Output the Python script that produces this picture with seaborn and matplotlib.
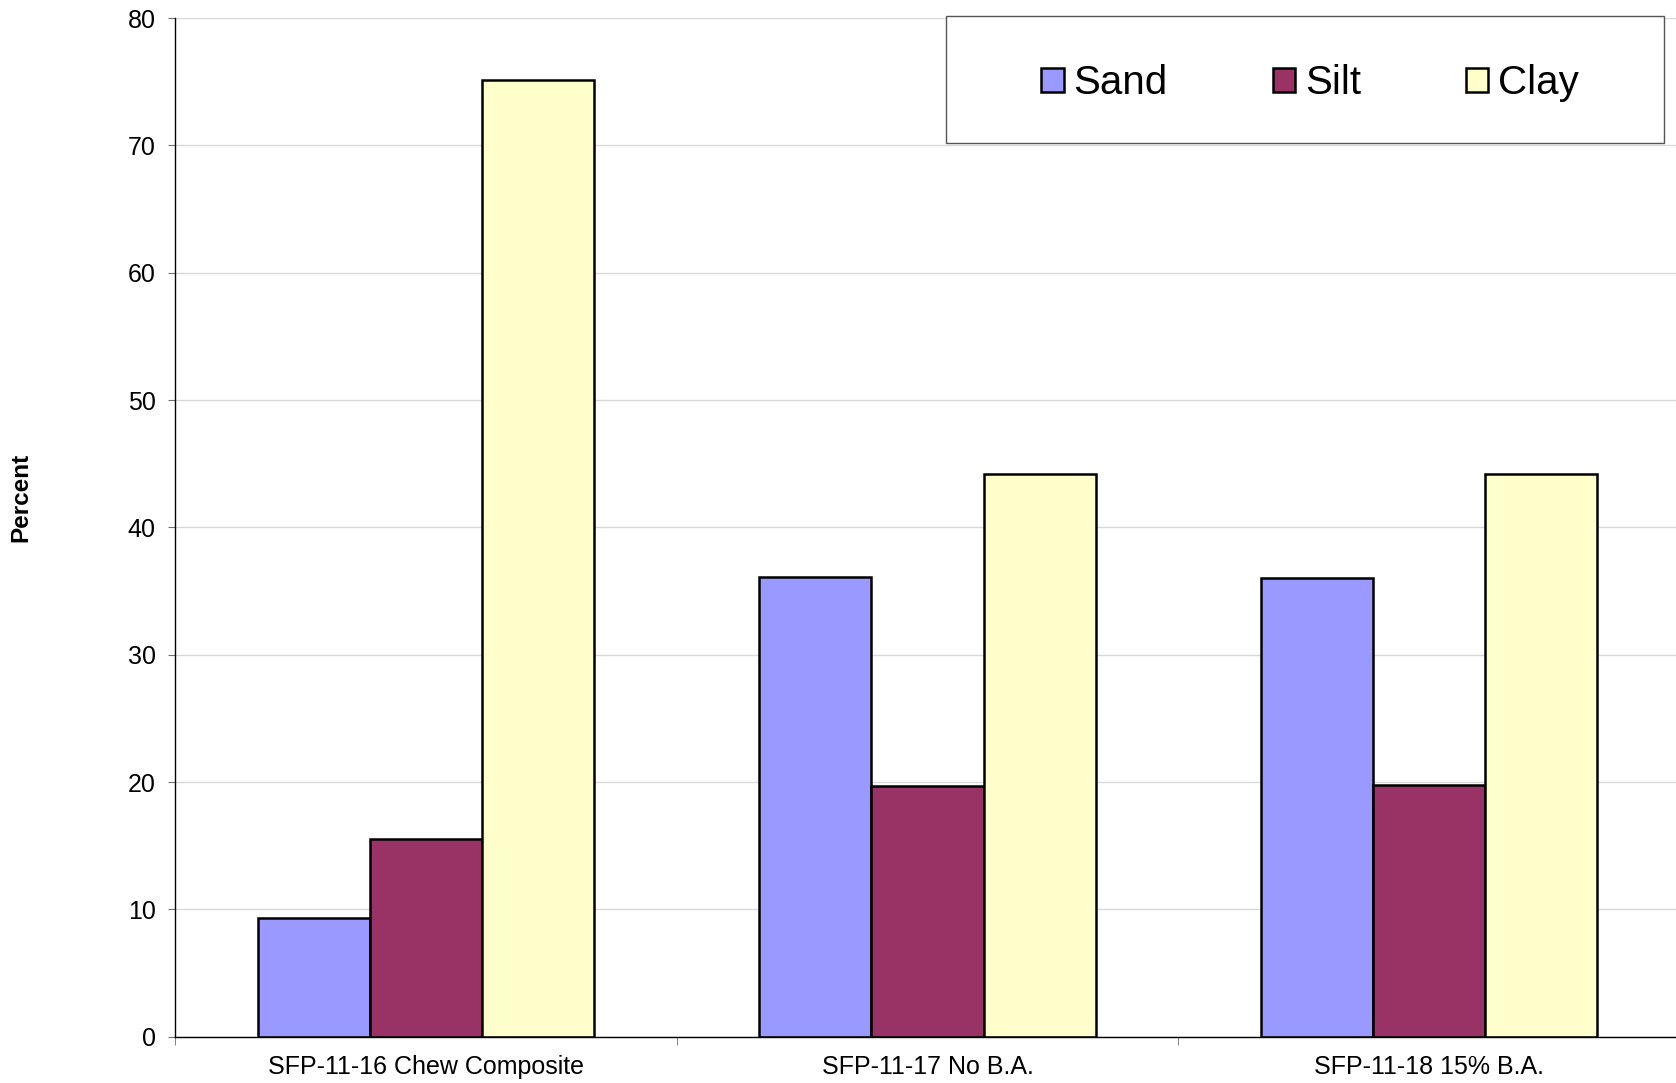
import numpy as np
import pandas as pd
import matplotlib
matplotlib.use('Agg')
import matplotlib.pyplot as plt
import seaborn as sns
from matplotlib.patches import Rectangle
from matplotlib.ticker import FixedLocator

samples = ['SFP-11-16 Chew Composite', 'SFP-11-17 No B.A.', 'SFP-11-18 15% B.A.']
fractions = ['Sand', 'Silt', 'Clay']
sand = [9.3, 36.1, 36.0]
silt = [15.5, 19.7, 19.8]
clay = [75.1, 44.2, 44.2]
colors = ['#9999ff', '#993366', '#ffffcc']
yticks = [0, 10, 20, 30, 40, 50, 60, 70, 80]

df = pd.DataFrame({
    'sample': samples * 3,
    'fraction': np.repeat(fractions, len(samples)),
    'percent': sand + silt + clay,
})

sns.set_style('white')
plt.rcParams['font.family'] = ['Liberation Sans', 'DejaVu Sans']
plt.rcParams['text.color'] = 'black'
plt.rcParams['xtick.labelcolor'] = 'black'
plt.rcParams['ytick.labelcolor'] = 'black'

W, H = 1676, 1083
fig = plt.figure(figsize=(W / 100, H / 100), dpi=100)
# axes runs a few pixels past the right edge, like the original
ax = fig.add_axes([175 / W, 1 - 1036.7 / H, (1680 - 175) / W, (1036.7 - 18) / H])

sns.barplot(data=df, x='sample', y='percent', hue='fraction', order=samples,
            hue_order=fractions, palette=colors, saturation=1, width=0.67,
            edgecolor='black', linewidth=1.8, ax=ax)

handles, labels = ax.get_legend_handles_labels()
ax.get_legend().remove()

ax.set_ylim(0, 80)
ax.set_xlim(-0.5, 2.5)
ax.set_yticks(yticks)
ax.set_axisbelow(True)
ax.yaxis.grid(True, color='#d9d9d9', linewidth=1)
ax.set_xlabel('')
ax.set_ylabel('')

for s in ['top', 'right']:
    ax.spines[s].set_visible(False)
for s in ['left', 'bottom']:
    ax.spines[s].set_color('black')
    ax.spines[s].set_linewidth(1)

ax.xaxis.set_minor_locator(FixedLocator([-0.5, 0.5, 1.5, 2.5]))
ax.tick_params(axis='y', left=True, direction='out', length=5, color='#707070',
               labelsize=18, labelcolor='black', pad=9)
ax.tick_params(axis='x', which='major', bottom=True, length=0, labelsize=18,
               labelcolor='black', pad=13)
ax.tick_params(axis='x', which='minor', bottom=True, direction='out', length=6,
               color='#707070')

fig.text(21 / W, 1 - 497 / H, 'Percent', rotation=90, ha='center', va='center',
         fontsize=17.5, fontweight='bold', color='black')

# legend box
fig.patches.append(Rectangle((946 / W, 1 - 143 / H), 718 / W, 127 / H,
                             transform=fig.transFigure, facecolor='white',
                             edgecolor='#555555', linewidth=1, zorder=5))
leg = fig.legend(handles, labels, loc='center', bbox_to_anchor=(1310 / W, 1 - 83 / H),
                 ncol=3, frameon=False, fontsize=29, handlelength=0.55,
                 handleheight=0.55, handletextpad=0.25, columnspacing=2.6)
leg.set_zorder(6)
for t in leg.get_texts():
    t.set_color('black')

fig.savefig('out.png', dpi=100)
